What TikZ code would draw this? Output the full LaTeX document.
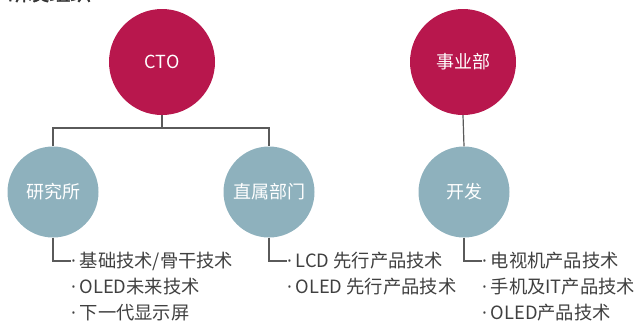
\documentclass[tikz,border=0pt]{standalone}
\usepackage{fontspec}
\setmainfont{Noto Sans CJK SC}
\newfontfamily\titlefont[FakeBold=2]{Noto Sans CJK SC}
\newfontfamily\latinfont{Open Sans}
\usetikzlibrary{positioning}
\definecolor{crimson}{RGB}{184,23,77}
\definecolor{steel}{RGB}{142,177,189}
\definecolor{ink}{RGB}{64,64,64}
\definecolor{wire}{RGB}{90,90,90}
\newcommand{\dotmark}{\makebox[8.5pt][l]{\latinfont ·}}
\tikzset{head/.style = {shape=circle,fill=crimson,text=white,minimum size=106pt,inner sep=0pt,font=\fontsize{18}{20}\selectfont}}
\tikzset{unit/.style = {shape=circle,fill=steel,text=white,minimum size=91pt,inner sep=0pt,font=\fontsize{18}{20}\selectfont}}
\tikzset{item/.style = {anchor=west,inner sep=0pt,text=ink,font=\fontsize{18.3}{20}\selectfont}}
\tikzset{conn/.style = {draw=wire,line width=1.2pt}}

\begin{document}
\begin{tikzpicture}[x=1pt,y=-1pt]
		\useasboundingbox (0,0) rectangle (639,322);
		\clip (0,0) rectangle (639,322);
		
		% title
		\node[anchor=base west,inner sep=0pt,text=black!80,font=\fontsize{21}{24}\titlefont] (title) at (7,0.5) {研发组织};
		
		% heads
		\node[head] (cto) at (162,62) {CTO};
		\node[head] (biz) at (463,62) {事业部};
		
		% units
		\node[unit] (lab) at (53,192) {研究所};
		\node[unit] (dir) at (269,192) {直属部门};
		\node[unit] (dev) at (464,192) {开发};
		
		% items
		\node[item] (a1) at (71,261) {\dotmark 基础技术/骨干技术};
		\node[item] (a2) at (71,287) {\dotmark OLED未来技术};
		\node[item] (a3) at (71,313) {\dotmark 下一代显示屏};
		\node[item] (b1) at (287,261) {\dotmark LCD 先行产品技术};
		\node[item] (b2) at (287,287) {\dotmark OLED 先行产品技术};
		\node[item] (c1) at (482,261) {\dotmark 电视机产品技术};
		\node[item] (c2) at (482,287) {\dotmark 手机及IT产品技术};
		\node[item] (c3) at (482,313) {\dotmark OLED产品技术};
		
		%edges
		\coordinate (bus) at (162,128);
		\draw[conn] (cto.south) -- (bus);
		\draw[conn] (lab.north) |- (bus) -| (dir.north);
		\draw[conn] (biz.south) -- (dev.north);
		\draw[conn] (lab.south) |- (a1.west);
		\draw[conn] (dir.south) |- (b1.west);
		\draw[conn] (dev.south) |- (c1.west);
	\end{tikzpicture}
\end{document}
